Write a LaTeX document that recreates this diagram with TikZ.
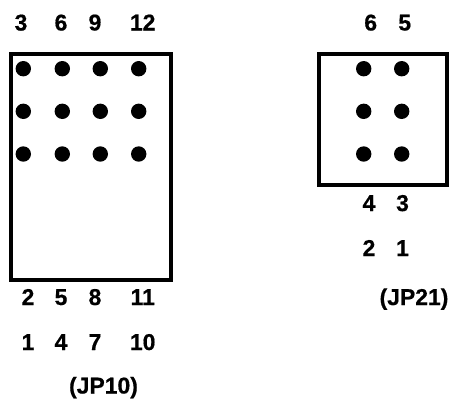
\documentclass[tikz,border=0pt]{standalone}
\usepackage{fontspec}
\setmainfont{Liberation Sans}[BoldFeatures={FakeBold=0.6}]
\begin{document}
\begin{tikzpicture}[x=1bp,y=-1bp,
  lbl/.style={anchor=base,inner sep=0pt,font=\fontsize{23}{25}\selectfont\bfseries},
  pin/.style={circle,fill=black,draw=none,inner sep=0pt,minimum size=15.4bp},
  edge/.style={line width=4bp,line cap=butt}]
\useasboundingbox[fill=white] (0,0) rectangle (451,398);
% JP10 housing
\draw[edge] (11,52) -- (11,280) -- (171,280) -- (171,52);
\draw[edge] (11,54) -- (171,54);
% JP21 housing
\draw[edge] (319,52) -- (319,185) -- (447,185) -- (447,52);
\draw[edge] (319,54) -- (447,54);
% JP10 pins
\foreach \px/\pn in {23.3/a,62.3/b,100.3/c,138.7/d}
  \foreach \py/\pm in {68.7/x,111.3/y,154/z}
    \node[pin] (p\pn\pm) at (\px,\py) {};
% JP21 pins
\foreach \px/\pn in {363.7/e,401.7/f}
  \foreach \py/\pm in {68.7/x,111.3/y,154/z}
    \node[pin] (p\pn\pm) at (\px,\py) {};
% JP10 labels
\node[lbl] (t3) at (21,30.5) {3};
\node[lbl] (t6) at (61,30.5) {6};
\node[lbl] (t9) at (95,30.5) {9};
\node[lbl] (t12) at (142.7,30.5) {12};
\node[lbl] (t2) at (28,305) {2};
\node[lbl] (t5) at (61,305) {5};
\node[lbl] (t8) at (95,305) {8};
\node[lbl] (t11) at (142.7,305) {11};
\node[lbl] (t1) at (28,350) {1};
\node[lbl] (t4) at (61,350) {4};
\node[lbl] (t7) at (95,350) {7};
\node[lbl] (t10) at (142.7,350) {10};
\node[lbl] (tjpa) at (103.5,393.5) {(JP10)};
% JP21 labels
\node[lbl] (u6) at (370.7,30.5) {6};
\node[lbl] (u5) at (404.7,30.5) {5};
\node[lbl] (u4) at (369,211) {4};
\node[lbl] (u3) at (402.5,211) {3};
\node[lbl] (u2) at (369,256) {2};
\node[lbl] (u1) at (402.5,256) {1};
\node[lbl] (tjpb) at (414,305) {(JP21)};
\end{tikzpicture}
\end{document}
